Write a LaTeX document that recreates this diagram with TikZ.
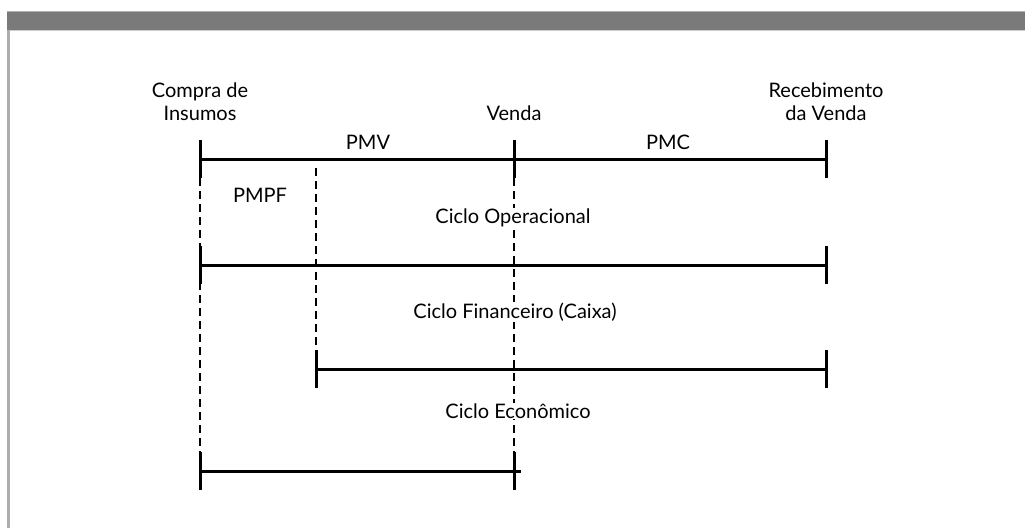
\documentclass[tikz,border=0pt]{standalone}
\usepackage{fontspec}
\setmainfont{Lato}
\begin{document}
\begin{tikzpicture}[x=1pt,y=-1pt,
  axis/.style={line width=3pt, line cap=butt},
  tick/.style={line width=3pt},
  guide/.style={line width=2.8pt, dash pattern=on 8pt off 5pt},
  lbl/.style={font=\fontsize{20}{23}\selectfont, align=center, inner sep=1pt},
  cyc/.style={lbl, fill=white}]
\useasboundingbox (0,0) rectangle (1025,528);
% frame: header bar and left rule
\fill[black!52] (7,11) rectangle (1025,30);
\draw[black!30, line width=0.8pt] (7,11.4) -- (1025,11.4);
\draw[black!20, line width=0.8pt] (7,30.4) -- (1025,30.4);
\fill[black!32] (7,30) rectangle (10,528);

% key instants on the time axis
\coordinate (c0) at (200,159);
\coordinate (v0) at (514,159);
\coordinate (r0) at (826,159);

% guide lines
\coordinate (cA) at (200,178); \coordinate (cB) at (200,452);
\coordinate (pA) at (316,168); \coordinate (pB) at (316,350);
\coordinate (vA) at (514,178); \coordinate (vB) at (514,452);
\draw[guide] (cA) -- (cB);
\draw[guide] (pA) -- (pB);
\draw[guide] (vA) -- (vB);

% cycle labels (drawn over the guides)
\node[cyc] (op) at (513,218) {Ciclo Operacional};
\node[cyc] (fin) at (515,312) {Ciclo Financeiro (Caixa)};
\node[cyc] (eco) at (518,411) {Ciclo Econômico};

% main time axis
\draw[axis] (c0) -- (r0);
\draw[tick] (200,140) -- (200,178);
\draw[tick] (514,140) -- (514,178);
\draw[tick] (826,140) -- (826,178);

% Ciclo Operacional
\coordinate (o1) at (200,265); \coordinate (o2) at (826,265);
\draw[axis] (o1) -- (o2);
\draw[tick] (200,246) -- (200,284);
\draw[tick] (826,246) -- (826,284);

% Ciclo Financeiro
\coordinate (f1) at (316,369); \coordinate (f2) at (826,369);
\draw[axis] (f1) -- (f2);
\draw[tick] (316,350) -- (316,388);
\draw[tick] (826,350) -- (826,388);

% Ciclo Economico
\coordinate (e1) at (200,471); \coordinate (e2) at (521,471);
\draw[axis] (e1) -- (e2);
\draw[tick] (200,452) -- (200,490);
\draw[tick] (514,452) -- (514,490);

% event labels
\node[lbl] (compra) at (200,102) {Compra de\\Insumos};
\node[lbl] (venda) at (514,113) {Venda};
\node[lbl] (receb) at (826,102) {Recebimento\\da Venda};
\node[lbl] (pmv) at (368,142) {PMV};
\node[lbl] (pmc) at (668,142) {PMC};
\node[lbl] (pmpf) at (260,195) {PMPF};
\end{tikzpicture}
\end{document}
